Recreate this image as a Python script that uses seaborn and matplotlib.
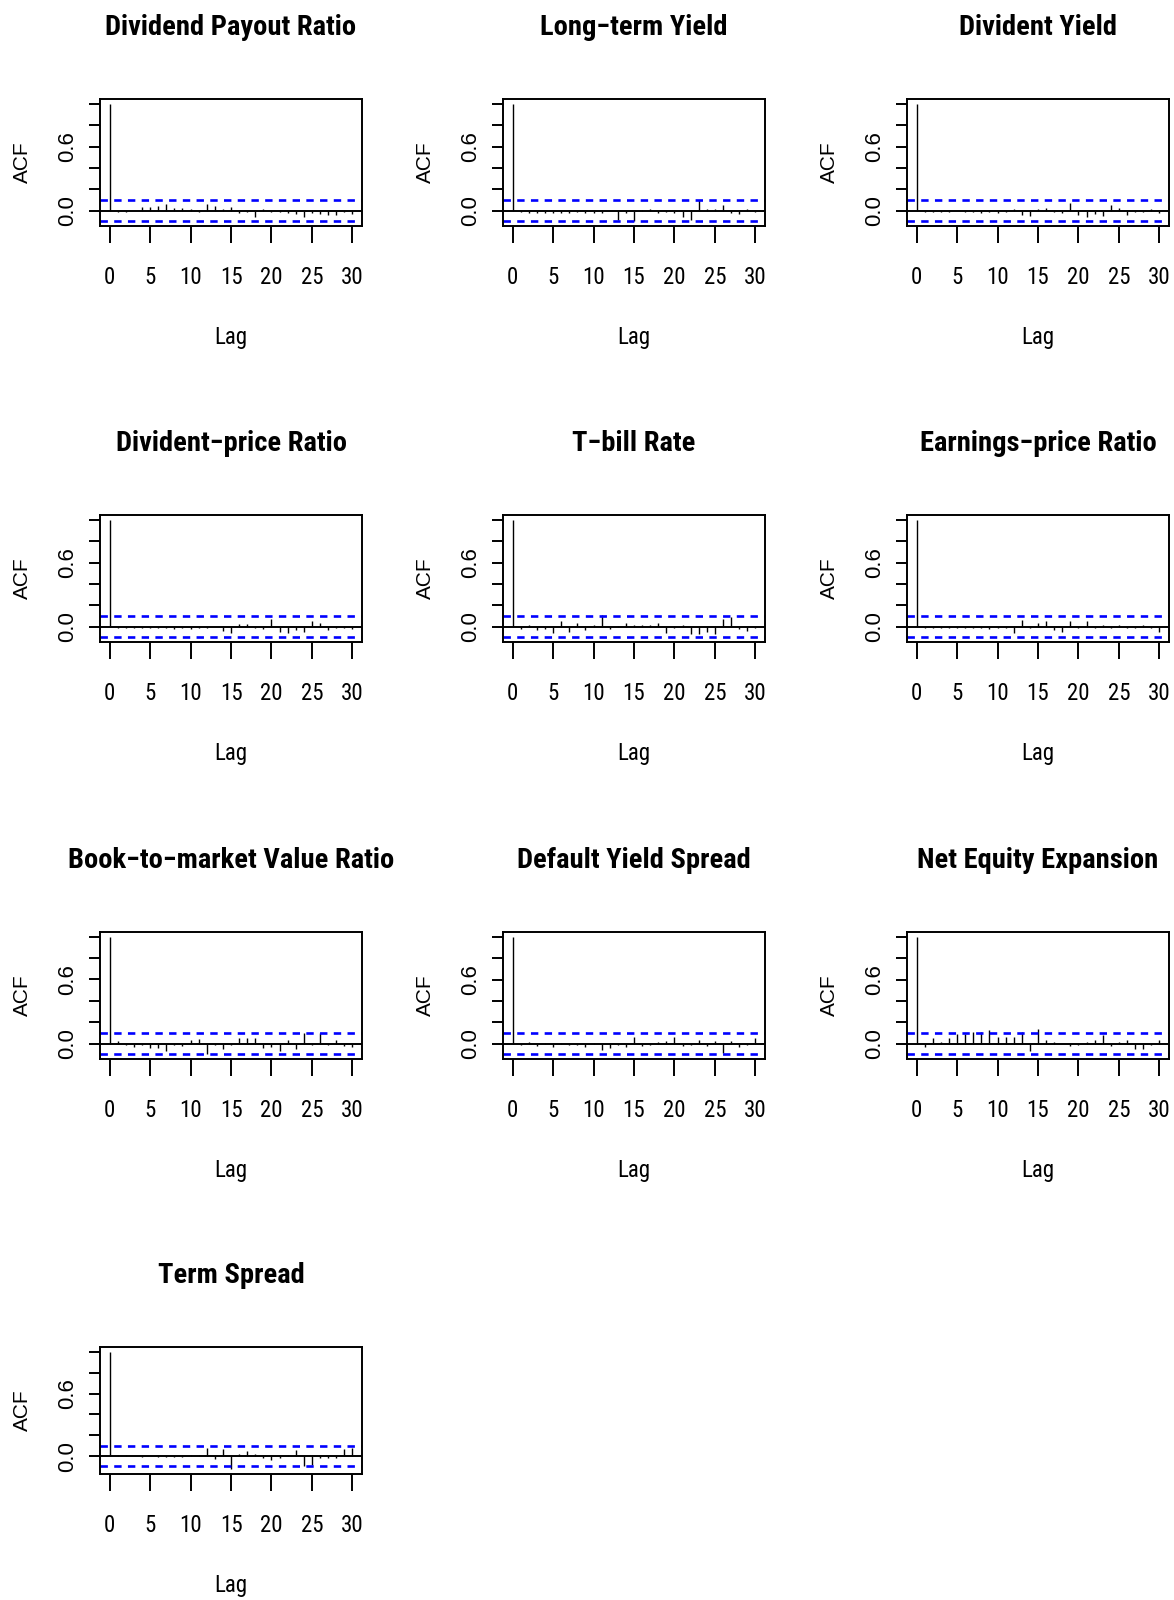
"""ACF panels for the predictor series, redrawn with seaborn."""

import matplotlib

matplotlib.use("Agg")

import matplotlib.pyplot as plt
import pandas as pd
import seaborn as sns
from matplotlib.ticker import FixedFormatter, FixedLocator

LAGS = list(range(31))
CI = 0.098

TITLES = [
    "Dividend Payout Ratio", "Long\u2212term Yield", "Divident Yield",
    "Divident\u2212price Ratio", "T\u2212bill Rate", "Earnings\u2212price Ratio",
    "Book\u2212to\u2212market Value Ratio", "Default Yield Spread", "Net Equity Expansion",
    "Term Spread",
]

ACF_PAYOUT = [1.0, -0.015, -0.01, -0.005, 0.04, 0.04, 0.045, 0.06, 0.03, 0.03, 0.02,
              -0.01, 0.06, 0.045, 0.02, 0.035, -0.02, -0.01, -0.055, 0.015, -0.01,
              -0.01, -0.02, -0.03, -0.055, -0.02, -0.03, -0.035, -0.035, -0.015, -0.03]
ACF_LONG_YIELD = [1.0, -0.01, -0.02, -0.02, -0.02, -0.02, -0.02, -0.02, -0.015, -0.02, -0.02,
                  -0.025, -0.005, -0.09, -0.02, -0.095, 0.01, 0.015, -0.02, -0.01, -0.02,
                  -0.06, -0.085, 0.1, 0.02, 0.02, 0.05, -0.02, -0.03, 0.02, -0.015]
ACF_DIV_YIELD = [1.0, -0.01, -0.01, -0.01, -0.01, 0.0, -0.01, -0.01, -0.02, -0.01, -0.025,
                 -0.01, 0.02, -0.04, -0.05, 0.02, 0.025, -0.015, -0.02, 0.07, -0.04,
                 -0.06, -0.03, -0.045, 0.05, 0.025, -0.035, -0.01, -0.01, 0.015, -0.02]
ACF_DIV_PRICE = [1.0, -0.01, -0.01, -0.01, -0.01, -0.01, -0.01, -0.01, -0.02, -0.01, -0.02,
                 -0.015, -0.01, -0.005, -0.04, -0.055, 0.025, 0.03, -0.015, -0.02, 0.07,
                 -0.045, -0.06, -0.03, -0.045, 0.05, 0.035, -0.03, -0.01, -0.01, -0.02]
ACF_TBILL = [1.0, -0.02, 0.02, -0.03, -0.02, -0.06, 0.05, -0.045, 0.035, -0.03, 0.02,
             0.11, -0.02, 0.01, 0.04, 0.02, 0.02, 0.02, 0.035, -0.055, -0.015,
             0.02, -0.065, -0.07, -0.045, -0.07, 0.07, 0.09, -0.02, -0.04, -0.01]
ACF_EARN_PRICE = [1.0, -0.01, -0.01, -0.01, -0.01, -0.01, -0.01, -0.01, -0.01, -0.02, -0.01,
                  -0.01, -0.055, 0.06, -0.015, 0.04, 0.055, -0.03, -0.045, 0.05, -0.015,
                  0.055, -0.01, 0.015, -0.01, 0.015, -0.01, -0.01, 0.015, -0.015, -0.045]
ACF_BOOK_MARKET = [1.0, 0.02, -0.01, -0.03, -0.015, -0.04, -0.04, -0.07, -0.015, -0.02, 0.03,
                   0.04, -0.1, -0.015, -0.055, -0.01, 0.05, 0.05, 0.05, -0.04, -0.03,
                   -0.07, 0.03, -0.05, 0.095, -0.01, 0.095, -0.01, 0.03, -0.02, -0.03]
ACF_DEFAULT = [1.0, -0.01, 0.015, -0.02, 0.01, -0.03, 0.01, -0.015, -0.01, -0.03, 0.01,
               -0.06, -0.035, -0.01, -0.03, 0.06, -0.02, -0.01, 0.015, 0.03, 0.065,
               -0.02, -0.01, 0.035, -0.02, 0.03, -0.085, 0.03, -0.03, -0.015, 0.055]
ACF_NET_EQUITY = [1.0, -0.03, 0.055, 0.02, 0.055, 0.09, 0.09, 0.11, 0.11, 0.125, 0.06,
                  0.06, 0.065, 0.11, -0.07, 0.14, 0.04, 0.02, -0.005, -0.02, -0.01,
                  0.02, 0.035, 0.085, -0.02, 0.02, 0.035, -0.045, -0.045, -0.01, 0.035]
ACF_TERM = [1.0, 0.01, 0.01, 0.005, -0.005, 0.005, -0.005, -0.01, -0.01, -0.005, 0.01,
            0.01, 0.08, -0.03, 0.07, -0.125, 0.02, 0.05, 0.02, -0.015, -0.04,
            -0.02, 0.015, 0.06, -0.09, -0.08, -0.02, -0.015, -0.02, 0.07, 0.08]

SERIES = [ACF_PAYOUT, ACF_LONG_YIELD, ACF_DIV_YIELD, ACF_DIV_PRICE, ACF_TBILL,
          ACF_EARN_PRICE, ACF_BOOK_MARKET, ACF_DEFAULT, ACF_NET_EQUITY, ACF_TERM]

NARROW = ["Roboto Condensed", "DejaVu Sans"]
REGULAR = ["Liberation Sans", "DejaVu Sans"]

sns.set_theme(style="ticks")
plt.rcParams.update({
    "font.family": NARROW,
    "axes.linewidth": 1.4,
    "xtick.major.width": 1.4,
    "ytick.major.width": 1.4,
    "axes.edgecolor": "black",
    "text.color": "black",
    "axes.labelcolor": "black",
    "xtick.color": "black",
    "ytick.color": "black",
})

df = pd.concat(
    [pd.DataFrame({"series": title, "lag": LAGS, "acf": values})
     for title, values in zip(TITLES, SERIES)],
    ignore_index=True,
)


def draw_acf(data, **kws):
    """Spikes, zero line and confidence bands in R's acf() style."""
    ax = plt.gca()
    ax.vlines(data["lag"], 0, data["acf"], color="black", lw=1.0)
    ax.axhline(0, color="black", lw=1.4)
    for level in (CI, -CI):
        ax.axhline(level, color="#0000ff", lw=1.9, dashes=(2.8, 2.4))
    lo = min(data["acf"].min(), -CI)
    hi = max(data["acf"].max(), CI)
    pad = 0.04 * (hi - lo)
    ax.set_ylim(lo - pad, hi + pad)
    ax.set_xlim(-1.2, 31.2)


g = sns.FacetGrid(df, col="series", col_wrap=3, col_order=TITLES,
                  sharex=False, sharey=False, despine=False)
g.map_dataframe(draw_acf)
g.figure.set_size_inches(11.74, 16)
g.set_titles(col_template="{col_name}", fontweight="bold", size=20.5,
             family=NARROW, color="black", pad=46)

col_left = [100, 503, 907]
row_top = [99, 515, 932, 1347]
W, H = 262, 127
for i, ax in enumerate(g.axes.flat):
    r, c = divmod(i, 3)
    ax.set_position([col_left[c] / 1174, 1 - (row_top[r] + H) / 1600, W / 1174, H / 1600])
    for side in ax.spines.values():
        side.set_visible(True)
        side.set_linewidth(1.4)
    ax.xaxis.set_major_locator(FixedLocator([0, 5, 10, 15, 20, 25, 30]))
    ax.yaxis.set_major_locator(FixedLocator([0.0, 0.2, 0.4, 0.6, 0.8, 1.0]))
    ax.yaxis.set_major_formatter(FixedFormatter(["0.0", "", "", "0.6", "", ""]))
    ax.tick_params(axis="x", length=12, pad=16.5, labelsize=16.5, direction="out",
                   bottom=True, labelfontfamily=NARROW)
    ax.tick_params(axis="y", length=8, pad=8, labelsize=16, direction="out",
                   left=True, labelfontfamily=REGULAR)
    for lbl in ax.get_yticklabels():
        lbl.set_rotation(90)
        lbl.set_verticalalignment("center")
    ax.set_xlabel("Lag", fontsize=16.5, family=NARROW, labelpad=27)
    ax.set_ylabel("ACF", fontsize=15, family=REGULAR, labelpad=18)
    ax.xaxis.label.set_visible(True)
    ax.yaxis.label.set_visible(True)
    ax.tick_params(labelbottom=True, labelleft=True)
    ax.grid(False)

g.figure.savefig("out.png", dpi=100, facecolor="white")
